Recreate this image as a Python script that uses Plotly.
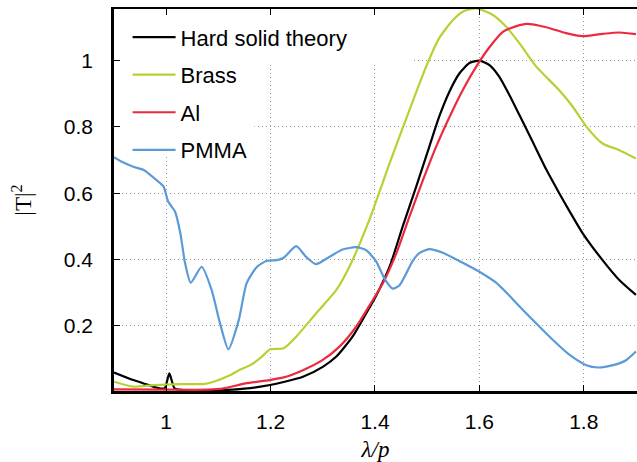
import plotly.graph_objects as go

# ---------------- data ----------------
hard_x = [0.9, 0.937, 0.96, 0.982, 0.997, 1.006, 1.016, 1.03, 1.06, 1.1, 1.15, 1.199, 1.225,
          1.262, 1.3, 1.326, 1.357, 1.383, 1.402, 1.428, 1.453, 1.479, 1.504, 1.523, 1.543,
          1.562, 1.581, 1.6, 1.62, 1.638, 1.658, 1.677, 1.696, 1.728, 1.753, 1.766, 1.798,
          1.836, 1.868, 1.9]
hard_y = [0.059, 0.036, 0.024, 0.013, 0.011, 0.056, 0.011, 0.006, 0.004, 0.005, 0.010, 0.021, 0.030,
          0.046, 0.076, 0.107, 0.167, 0.237, 0.29, 0.378, 0.499, 0.62, 0.74, 0.831, 0.908,
          0.962, 0.993, 1.0, 0.986, 0.952, 0.895, 0.835, 0.775, 0.672, 0.600, 0.564, 0.479,
          0.398, 0.338, 0.293]

brass_x = [0.9, 0.937, 0.976, 1.027, 1.072, 1.091, 1.123, 1.142, 1.161, 1.18, 1.199, 1.225,
           1.249, 1.287, 1.326, 1.351, 1.389, 1.428, 1.466, 1.498, 1.523, 1.549, 1.568, 1.594,
           1.626, 1.651, 1.677, 1.709, 1.753, 1.779, 1.805, 1.836, 1.868, 1.9]
brass_y = [0.031, 0.016, 0.021, 0.024, 0.024, 0.031, 0.051, 0.068, 0.081, 0.102, 0.129, 0.132,
           0.167, 0.237, 0.308, 0.378, 0.519, 0.69, 0.851, 0.982, 1.068, 1.122, 1.148, 1.158,
           1.138, 1.103, 1.052, 0.982, 0.911, 0.861, 0.801, 0.750, 0.730, 0.705]

al_x = [0.9, 1.0, 1.08, 1.11, 1.152, 1.198, 1.225, 1.262, 1.3, 1.332, 1.364, 1.389, 1.415,
        1.441, 1.466, 1.492, 1.517, 1.543, 1.568, 1.594, 1.62, 1.645, 1.658, 1.69, 1.728,
        1.766, 1.798, 1.836, 1.868, 1.9]
al_y = [0.008, 0.007, 0.007, 0.011, 0.026, 0.036, 0.044, 0.066, 0.097, 0.137, 0.197, 0.26, 0.328,
        0.419, 0.529, 0.64, 0.74, 0.831, 0.911, 0.982, 1.042, 1.087, 1.097, 1.111, 1.101,
        1.083, 1.074, 1.081, 1.085, 1.080]

pmma_x = [0.9, 0.915, 0.937, 0.957, 0.981, 0.995, 1.004, 1.017, 1.027, 1.036, 1.047, 1.068,
          1.087, 1.103, 1.119, 1.139, 1.154, 1.174, 1.193, 1.212, 1.225, 1.249, 1.268, 1.287,
          1.313, 1.338, 1.364, 1.383, 1.402, 1.418, 1.434, 1.447, 1.46, 1.472, 1.485, 1.504,
          1.53, 1.568, 1.6, 1.632, 1.658, 1.677, 1.709, 1.741, 1.773, 1.805, 1.827, 1.856,
          1.881, 1.9]
pmma_y = [0.709, 0.695, 0.68, 0.67, 0.64, 0.62, 0.574, 0.544, 0.48, 0.39, 0.33, 0.378,
          0.308, 0.208, 0.129, 0.217, 0.328, 0.378, 0.396, 0.398, 0.405, 0.44, 0.408, 0.386,
          0.408, 0.43, 0.437, 0.428, 0.395, 0.343, 0.312, 0.322, 0.358, 0.395, 0.419, 0.431,
          0.42, 0.39, 0.363, 0.33, 0.29, 0.258, 0.207, 0.157, 0.112, 0.081, 0.074, 0.081,
          0.096, 0.122]

x_ticks = [1, 1.2, 1.4, 1.6, 1.8]
x_ticktext = ["1", "1.2", "1.4", "1.6", "1.8"]
y_ticks = [0.2, 0.4, 0.6, 0.8, 1.0]
y_ticktext = ["0.2", "0.4", "0.6", "0.8", "1"]

series = [
    ("Hard solid theory", hard_x, hard_y, "#000000"),
    ("Brass", brass_x, brass_y, "#b4d234"),
    ("Al", al_x, al_y, "#ec2a3f"),
    ("PMMA", pmma_x, pmma_y, "#5b9ad6"),
]

X_RANGE = [0.9, 1.902]
Y_RANGE = [0.003, 1.156]

fig = go.Figure()
for i, (name, xs, ys, col) in enumerate(series):
    fig.add_trace(go.Scatter(
        x=xs, y=ys, name=name, mode="lines", legendgroup=f"g{i}",
        line=dict(color=col, width=2.2, shape="spline", smoothing=0.6),
        hoverinfo="skip",
    ))

# empty trace to activate the mirrored top axis
fig.add_trace(go.Scatter(x=[], y=[], xaxis="x2", showlegend=False, hoverinfo="skip"))

axis_common = dict(
    ticks="inside", ticklen=6, tickwidth=1, tickcolor="black",
    showline=True, linecolor="black",
    zeroline=False,
)
grid_style = dict(showgrid=True, gridcolor="#9a9a9a", griddash="1px,3px", gridwidth=1)

serif = "Liberation Serif, Times New Roman, serif"

fig.update_layout(
    width=637, height=462,
    margin=dict(l=114, r=0, t=9, b=71),
    paper_bgcolor="white", plot_bgcolor="white",
    font=dict(family="Liberation Sans, Arial, sans-serif", size=21, color="black"),
    showlegend=True,
    xaxis=dict(
        range=X_RANGE, tickvals=x_ticks, ticktext=x_ticktext,
        linewidth=2.5, ticklabelstandoff=10,
        title=dict(text="<i>λ/p</i>", font=dict(family=serif, size=23), standoff=12),
        **grid_style, **axis_common,
    ),
    xaxis2=dict(
        range=X_RANGE, tickvals=x_ticks, overlaying="x", side="top", anchor="y",
        showticklabels=False, showgrid=False, linewidth=1.8,
        **axis_common,
    ),
    yaxis=dict(
        range=Y_RANGE, tickvals=y_ticks, ticktext=y_ticktext,
        linewidth=2.5, ticklabelstandoff=14,
        title=dict(text="|T|<sup>2</sup>", font=dict(family=serif, size=23), standoff=26),
        **grid_style, **axis_common,
    ),
    legend=dict(
        x=0.026, y=0.981, xanchor="left", yanchor="top",
        bgcolor="rgba(0,0,0,0)", borderwidth=0,
        font=dict(size=22, color="black"),
        itemwidth=43, tracegroupgap=6, traceorder="grouped",
    ),
    shapes=[
        dict(type="rect", xref="x", yref="y", x0=0.9, x1=1.47, y0=0.993, y1=1.156,
             fillcolor="white", line=dict(width=0), layer="between"),
        dict(type="rect", xref="x", yref="y", x0=0.9, x1=1.169, y0=0.709, y1=1.156,
             fillcolor="white", line=dict(width=0), layer="between"),
    ],
)

fig.write_html("out.html", config={"displayModeBar": False})
